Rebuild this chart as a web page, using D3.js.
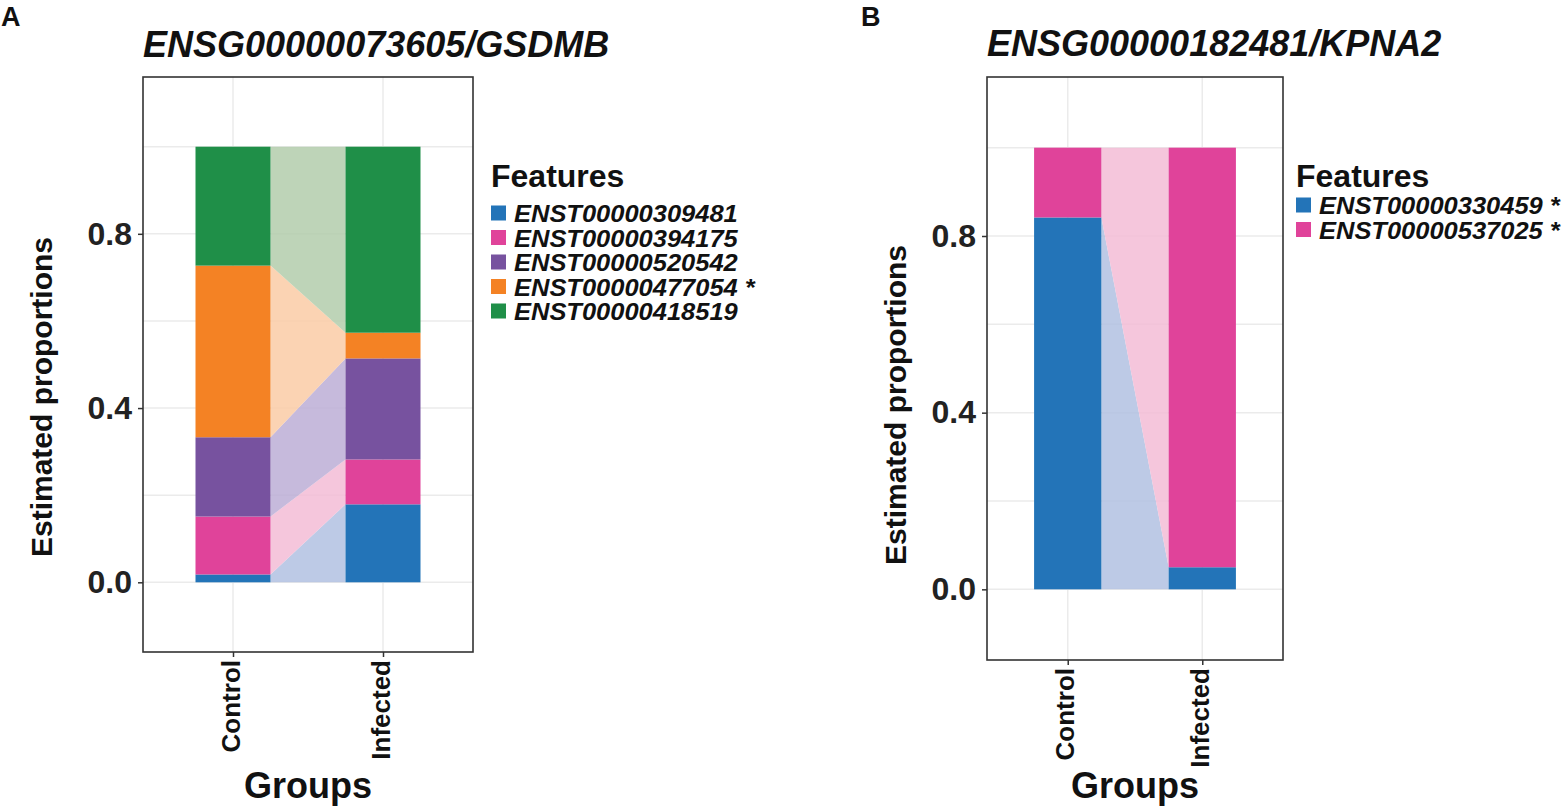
<!DOCTYPE html>
<html>
<head>
<meta charset="utf-8">
<script src="https://cdn.jsdelivr.net/npm/d3@7"></script>
<style>
  html, body { margin: 0; padding: 0; background: #fff; }
  svg { display: block; font-family: "Liberation Sans", Arial, Helvetica, sans-serif; }
</style>
</head>
<body>
<svg id="chart" width="1564" height="811"></svg>
<script>
// ---------------- data ----------------
const groups = ["Control", "Infected"];
const yTickValues = [0, 0.4, 0.8];
const yGridValues = [0, 0.2, 0.4, 0.6, 0.8, 1.0];

const titleA = "ENSG00000073605/GSDMB";
const featuresA = ["ENST00000309481", "ENST00000394175", "ENST00000520542", "ENST00000477054 *", "ENST00000418519"];
const controlA  = [0.018, 0.133, 0.182, 0.394, 0.273];
const infectedA = [0.179, 0.103, 0.232, 0.059, 0.427];
const colorsA = ["#2374B8", "#E0439A", "#77529F", "#F48224", "#1F8F48"];
const lightA  = ["#BDCAE6", "#F5C6DC", "#C6BADC", "#FBD3B3", "#BED4B8"];

const titleB = "ENSG00000182481/KPNA2";
const featuresB = ["ENST00000330459 *", "ENST00000537025 *"];
const controlB  = [0.842, 0.158];
const infectedB = [0.05, 0.95];
const colorsB = ["#2374B8", "#E0439A"];
const lightB  = ["#BDCAE6", "#F5C6DC"];

// ---------------- drawing ----------------
const svg = d3.select("#chart");
const FLOW_ALPHA = 0.82;

function flowColor(light) {
  const c = d3.rgb(light);
  const f = v => Math.max(0, Math.min(255, Math.round((v - (1 - FLOW_ALPHA) * 255) / FLOW_ALPHA)));
  return d3.rgb(f(c.r), f(c.g), f(c.b)).formatHex();
}

function drawPanel(cfg) {
  const g = svg.append("g");
  const x = d3.scaleLinear().domain([0.4, 2.6]).range([cfg.left, cfg.right]);
  const y = d3.scaleLinear().domain([-0.16, 1.16]).range([cfg.bottom, cfg.top]);
  const barHalf = 0.25;

  // panel label
  svg.append("text").attr("x", cfg.labelX).attr("y", 26)
    .attr("font-size", 27).attr("font-weight", "bold").attr("fill", "#111").text(cfg.label);

  // title
  g.append("text").attr("x", cfg.left).attr("y", cfg.titleY)
    .attr("font-size", 36).attr("font-weight", "bold").attr("font-style", "italic")
    .attr("fill", "#111").text(cfg.title);

  // grid
  g.selectAll(".hg").data(yGridValues).join("line")
    .attr("x1", cfg.left).attr("x2", cfg.right)
    .attr("y1", d => y(d)).attr("y2", d => y(d))
    .attr("stroke", "#EBEBEB").attr("stroke-width", 1.5);
  g.selectAll(".vg").data(groups).join("line")
    .attr("x1", (d, i) => x(i + 1)).attr("x2", (d, i) => x(i + 1))
    .attr("y1", cfg.top).attr("y2", cfg.bottom)
    .attr("stroke", "#EBEBEB").attr("stroke-width", 1.5);

  // stacks
  const n = cfg.control.length;
  const cumC = d3.cumsum(cfg.control), cumI = d3.cumsum(cfg.infected);
  const stacks = d3.range(n).map(k => ({
    k,
    c0: k === 0 ? 0 : cumC[k - 1], c1: cumC[k],
    i0: k === 0 ? 0 : cumI[k - 1], i1: cumI[k]
  }));

  // flows
  const xa = x(1 + barHalf), xb = x(2 - barHalf);
  g.selectAll(".flow").data(stacks).join("path")
    .attr("d", s => `M${xa},${y(s.c0)}L${xb},${y(s.i0)}L${xb},${y(s.i1)}L${xa},${y(s.c1)}Z`)
    .attr("fill", s => flowColor(cfg.light[s.k]))
    .attr("fill-opacity", FLOW_ALPHA);

  // bars
  [["c0", "c1"], ["i0", "i1"]].forEach((keys, gi) => {
    g.selectAll(".bar" + gi).data(stacks).join("rect")
      .attr("x", x(gi + 1 - barHalf)).attr("width", x(gi + 1 + barHalf) - x(gi + 1 - barHalf))
      .attr("y", s => y(s[keys[1]])).attr("height", s => y(s[keys[0]]) - y(s[keys[1]]))
      .attr("fill", s => cfg.colors[s.k]);
  });

  // border
  g.append("rect").attr("x", cfg.left).attr("y", cfg.top)
    .attr("width", cfg.right - cfg.left).attr("height", cfg.bottom - cfg.top)
    .attr("fill", "none").attr("stroke", "#333").attr("stroke-width", 1.6);

  // y axis
  const ya = g.append("g").attr("transform", `translate(${cfg.left},0)`)
    .call(d3.axisLeft(y).tickValues(yTickValues).tickFormat(d3.format(".1f")).tickSize(5).tickPadding(6));
  ya.select(".domain").remove();
  ya.selectAll(".tick line").attr("stroke", "#333").attr("stroke-width", 1.5);
  ya.selectAll(".tick text").attr("font-size", 32).attr("font-weight", "bold")
    .attr("fill", "#222").attr("font-family", "Liberation Sans, Arial, sans-serif");

  // x axis
  const xaG = g.append("g").attr("transform", `translate(0,${cfg.bottom})`)
    .call(d3.axisBottom(x).tickValues([1, 2]).tickFormat((d) => groups[d - 1]).tickSize(5).tickPadding(0));
  xaG.select(".domain").remove();
  xaG.selectAll(".tick line").attr("stroke", "#333").attr("stroke-width", 1.5);
  xaG.selectAll(".tick text")
    .attr("font-size", 26).attr("font-weight", "bold").attr("fill", "#111")
    .attr("font-family", "Liberation Sans, Arial, sans-serif")
    .attr("text-anchor", "end").attr("dy", null)
    .attr("transform", "translate(6,8) rotate(-90)")
    .attr("x", 0).attr("y", 0);

  // axis titles
  g.append("text").attr("transform", `translate(${cfg.yTitleX},${cfg.yTitleY}) rotate(-90)`)
    .attr("text-anchor", "middle").attr("font-size", 30).attr("font-weight", "bold")
    .attr("fill", "#111").text("Estimated proportions");
  g.append("text").attr("x", (cfg.left + cfg.right) / 2).attr("y", 798)
    .attr("text-anchor", "middle").attr("font-size", 36).attr("font-weight", "bold")
    .attr("fill", "#111").text("Groups");

  // legend
  const lg = g.append("g").attr("transform", `translate(${cfg.legendX},0)`);
  lg.append("text").attr("x", 0).attr("y", 187).attr("font-size", 32).attr("font-weight", "bold")
    .attr("fill", "#111").text("Features");
  const items = lg.selectAll(".li").data(cfg.features).join("g")
    .attr("transform", (d, i) => `translate(0,${cfg.legendRow0 + i * 24.5})`);
  items.append("rect").attr("x", 0).attr("y", -7.5).attr("width", 15).attr("height", 15)
    .attr("fill", (d, i) => cfg.colors[i]);
  items.append("text").attr("transform", "translate(23,9) scale(1.04,1)")
    .attr("font-size", 24.5)
    .attr("font-weight", "bold").attr("font-style", "italic").attr("fill", "#111").text(d => d);
}

drawPanel({
  label: "A", labelX: 1, title: titleA, titleY: 57,
  left: 143, right: 473, top: 77, bottom: 652,
  control: controlA, infected: infectedA, colors: colorsA, light: lightA,
  features: featuresA, legendX: 491, legendRow0: 213,
  yTitleX: 52, yTitleY: 397
});
drawPanel({
  label: "B", labelX: 861, title: titleB, titleY: 56,
  left: 987, right: 1283, top: 77, bottom: 660,
  control: controlB, infected: infectedB, colors: colorsB, light: lightB,
  features: featuresB, legendX: 1296, legendRow0: 205,
  yTitleX: 906, yTitleY: 405
});
</script>
</body>
</html>
